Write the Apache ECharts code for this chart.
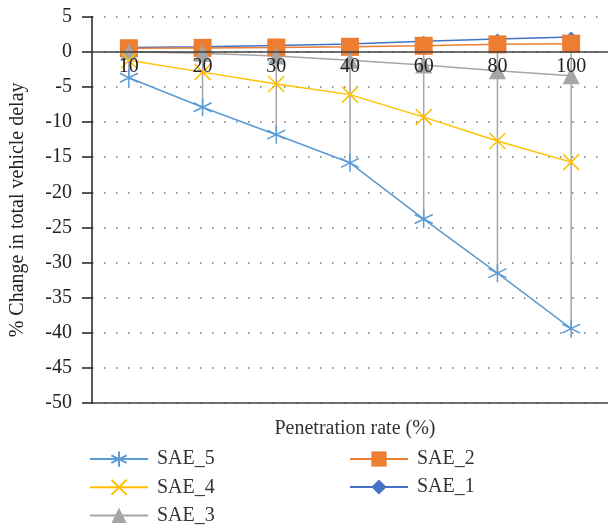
<!DOCTYPE html>
<html>
<head>
<meta charset="utf-8">
<script src="https://cdn.jsdelivr.net/npm/echarts@6/dist/echarts.min.js"></script>
<style>
  html, body { margin: 0; padding: 0; background: #fff; }
  #main { width: 608px; height: 528px; }
</style>
</head>
<body>
<div id="main"></div>
<script>
// penetration rate categories (%)
var penetration = ['10', '20', '30', '40', '60', '80', '100']
// % change in total vehicle delay
var sae1 = [0.6, 0.7, 0.9, 1.1, 1.5, 1.8, 2.1]
var sae2 = [0.5, 0.55, 0.6, 0.7, 0.85, 1.05, 1.15]
var sae3 = [0.0, -0.2, -0.6, -1.2, -1.9, -2.7, -3.4]
var sae4 = [-1.2, -2.9, -4.6, -6.1, -9.3, -12.7, -15.7]
var sae5 = [-3.7, -7.9, -11.8, -15.8, -23.8, -31.5, -39.4]

var font = '"Liberation Serif", "DejaVu Serif", serif'
var starPath = 'path://M0,-10L0,10M-8.66,-5L8.66,5M-8.66,5L8.66,-5'
var crossPath = 'path://M-10,-10L10,10M-10,10L10,-10'

// plot box
var gridTop = 16.6
var gridH = 386.6
var yMin = -50
var yMax = 5
// x axis labels sit on the zero line, so pull the axis up from the bottom
var zeroOffset = -gridH * (0 - yMin) / (yMax - yMin)

// high-low lines: from the max to the min of all series at each category
var all = [sae1, sae2, sae3, sae4, sae5]
var hiLow = penetration.map(function (c, i) {
  var vals = all.map(function (s) { return s[i] })
  return [i, Math.max.apply(null, vals), Math.min.apply(null, vals)]
})

function lineSeries(name, data, color, symbol, size, stroke) {
  return {
    name: name,
    type: 'line',
    data: data,
    symbol: symbol,
    symbolSize: size,
    showAllSymbol: true,
    z: 3,
    lineStyle: { color: color, width: 1.5 },
    itemStyle: stroke
      ? { color: 'none', borderColor: color, borderWidth: 1.5 }
      : { color: color, borderColor: color, borderWidth: 0 },
    emphasis: { disabled: true }
  }
}

var legendText = { fontFamily: font, fontSize: 20, color: '#333', padding: [0, 0, 0, 4] }

var chart = echarts.init(document.getElementById('main'))
chart.setOption({
  animation: false,
  textStyle: { fontFamily: font },
  title: {
    text: 'Penetration rate (%)',
    left: 350,
    top: 414,
    textAlign: 'center',
    textStyle: { fontFamily: font, fontSize: 20, fontWeight: 'normal', color: '#333' }
  },
  legend: [
    {
      left: 84,
      top: 444,
      height: 84,
      orient: 'vertical',
      itemWidth: 58,
      itemHeight: 19,
      itemGap: 8,
      data: ['SAE_5', 'SAE_4', 'SAE_3'],
      textStyle: legendText
    },
    {
      left: 344,
      top: 444,
      height: 84,
      orient: 'vertical',
      itemWidth: 58,
      itemHeight: 19,
      itemGap: 8,
      data: ['SAE_2', 'SAE_1'],
      textStyle: legendText
    }
  ],
  grid: { left: 91, right: -2, top: gridTop, height: gridH },
  xAxis: {
    type: 'category',
    data: penetration,
    boundaryGap: true,
    position: 'bottom',
    offset: zeroOffset,
    z: 10,
    axisLine: { show: false },
    axisTick: { show: false },
    axisLabel: { fontFamily: font, fontSize: 20, color: '#222', margin: 5 },
    splitLine: { show: false }
  },
  yAxis: {
    type: 'value',
    name: '% Change in total vehicle delay',
    nameLocation: 'middle',
    nameGap: 64,
    nameTextStyle: { fontFamily: font, fontSize: 20, color: '#222' },
    min: yMin,
    max: yMax,
    interval: 5,
    axisLine: { show: true, lineStyle: { color: '#222', width: 1.5 } },
    axisTick: { show: true, length: 10, lineStyle: { color: '#222', width: 1.5 } },
    axisLabel: { fontFamily: font, fontSize: 20, color: '#222', margin: 20 },
    splitLine: { show: true, lineStyle: { color: '#777', width: 1.5, type: [1.5, 10.5] } }
  },
  series: [
    {
      type: 'custom',
      name: 'hilo',
      data: hiLow,
      encode: { x: 0, y: [1, 2] },
      z: 2,
      silent: true,
      renderItem: function (params, api) {
        var p1 = api.coord([api.value(0), api.value(1)])
        var p2 = api.coord([api.value(0), api.value(2)])
        return {
          type: 'line',
          shape: { x1: p1[0], y1: p1[1], x2: p2[0], y2: p2[1] },
          style: { stroke: '#a5a5a5', lineWidth: 1.5 }
        }
      },
      // zero line and bottom frame line
      markLine: {
        silent: true,
        symbol: 'none',
        label: { show: false },
        lineStyle: { color: '#404040', width: 1.5, type: 'solid' },
        data: [{ yAxis: 0 }, { yAxis: -50 }]
      }
    },
    lineSeries('SAE_1', sae1, '#4472c4', 'diamond', 11, false),
    lineSeries('SAE_2', sae2, '#ed7d31', 'rect', 18, false),
    lineSeries('SAE_3', sae3, '#a5a5a5', 'triangle', 17, false),
    lineSeries('SAE_4', sae4, '#ffc000', crossPath, 16, true),
    lineSeries('SAE_5', sae5, '#5b9bd5', starPath, 18, true)
  ]
})
</script>
</body>
</html>
